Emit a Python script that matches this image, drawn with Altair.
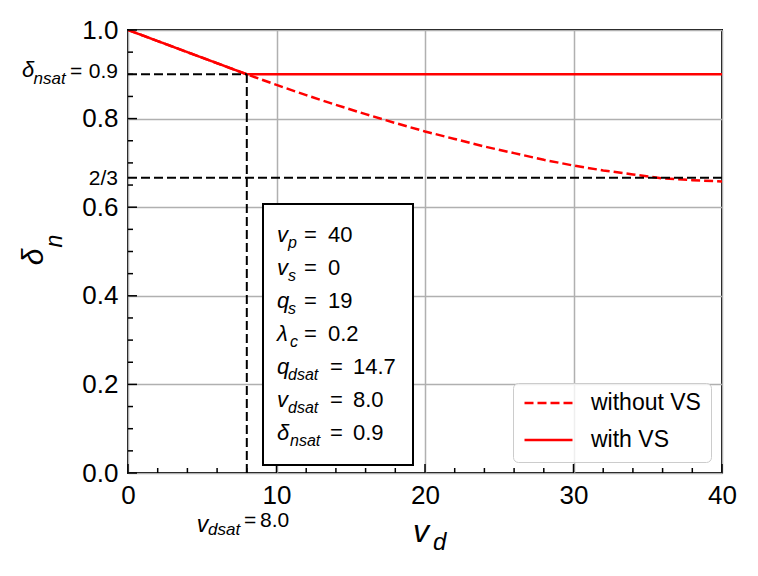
import altair as alt
import pandas as pd

# ---------------- data ----------------
vd = [0, 2, 4, 6, 8, 10, 12, 14, 16, 18, 20, 22, 24, 26, 28, 30, 32, 34, 36, 38, 40]
delta_without_vs = [1.000, 0.975, 0.950, 0.925, 0.900, 0.876, 0.853, 0.831, 0.810, 0.790,
                    0.771, 0.754, 0.737, 0.722, 0.707, 0.694, 0.683, 0.674, 0.665, 0.661, 0.658]
vd_with = [0, 2, 4, 6, 8, 40]
delta_with_vs = [1.000, 0.975, 0.950, 0.925, 0.900, 0.900]
series_names = ["without VS", "with VS"]

vdsat = 8.0
dnsat = 0.9
two_thirds = 2 / 3

param_base = ["v", "v", "q", "λ", "q", "v", "δ"]
param_sub = ["p", "s", "s", "c", "dsat", "dsat", "nsat"]
param_val = ["40", "0", "19", "0.2", "14.7", "8.0", "0.9"]

x_major = [0, 10, 20, 30, 40]
x_minor = [2, 4, 6, 8, 12, 14, 16, 18, 22, 24, 26, 28, 32, 34, 36, 38]
y_major = [0.0, 0.2, 0.4, 0.6, 0.8, 1.0]
y_minor = [0.05, 0.1, 0.15, 0.25, 0.3, 0.35, 0.45, 0.5, 0.55, 0.65, 0.7, 0.75, 0.85, 0.9, 0.95]

# ---------------- layout ----------------
W, H = 594, 443
FONT = "Liberation Sans"
RED = "#ff0000"

xs = alt.Scale(domain=[0, 40], nice=False, zero=False)
ys = alt.Scale(domain=[0, 1], nice=False, zero=False)


def px_to_x(px):
    return (px - 128) / (W / 40)


def px_to_y(py):
    return (473 - py) / H


def X(field):
    return alt.X(field, scale=xs, title=None)


def Y(field):
    return alt.Y(field, scale=ys, title=None)


# ---------------- curves ----------------
df_curves = pd.concat([
    pd.DataFrame({"vd": vd, "delta": delta_without_vs, "series": series_names[0]}),
    pd.DataFrame({"vd": vd_with, "delta": delta_with_vs, "series": series_names[1]}),
])

curves = alt.Chart(df_curves).mark_line(strokeWidth=2.5, clip=True).encode(
    x=alt.X("vd:Q", scale=xs, title=None,
            axis=alt.Axis(values=x_major, title=None, grid=True, labelFlush=False, labelPadding=9)),
    y=alt.Y("delta:Q", scale=ys, title=None,
            axis=alt.Axis(values=y_major, title=None, grid=True, format=".1f", labelPadding=10)),
    color=alt.Color("series:N", scale=alt.Scale(domain=series_names, range=[RED, RED]),
                    legend=alt.Legend(title=None)),
    strokeDash=alt.StrokeDash("series:N",
                              scale=alt.Scale(domain=series_names, range=[[9, 4], [1, 0]]),
                              legend=alt.Legend(title=None)),
)

# ---------------- reference dashed lines ----------------
df_rules = pd.DataFrame({
    "x": [0, vdsat, 0],
    "x2": [vdsat, vdsat, 40],
    "y": [dnsat, 0, two_thirds],
    "y2": [dnsat, dnsat, two_thirds],
})
rules = alt.Chart(df_rules).mark_rule(color="black", strokeWidth=2, strokeDash=[9, 4]).encode(
    x=X("x:Q"), x2="x2:Q", y=Y("y:Q"), y2="y2:Q",
)


# ---------------- inward ticks ----------------
def xticks(vals, length):
    return alt.Chart(pd.DataFrame({"v": vals})).mark_rule(color="black", strokeWidth=1.5).encode(
        x=X("v:Q"), y=alt.value(H), y2=alt.value(H - length))


def yticks(vals, length):
    return alt.Chart(pd.DataFrame({"v": vals})).mark_rule(color="black", strokeWidth=1.5).encode(
        y=Y("v:Q"), x=alt.value(0), x2=alt.value(length))


ticks = [xticks(x_major, 9), xticks(x_minor, 5), yticks(y_major, 9), yticks(y_minor, 5)]

# ---------------- parameter box ----------------
df_box = pd.DataFrame({"x": [px_to_x(263)], "x2": [px_to_x(413)],
                       "y": [px_to_y(465)], "y2": [px_to_y(204)]})
box = alt.Chart(df_box).mark_rect(fill="white", stroke="black", strokeWidth=2).encode(
    x=X("x:Q"), x2="x2:Q", y=Y("y:Q"), y2="y2:Q",
)

rows = []
for i, (b, s, v) in enumerate(zip(param_base, param_sub, param_val)):
    base_py = 241.7 + i * 33.1
    long_sub = len(s) > 1
    rows.append({
        "base": b, "sub": s, "eq": "=", "val": v,
        "y": px_to_y(base_py),
        "ysub": px_to_y(base_py + 6),
        "xbase": px_to_x(277),
        "xsub": px_to_x(290 if b in ("δ", "λ") else 288),
        "xeq": px_to_x(330 if long_sub else 304),
        "xval": px_to_x(353 if long_sub else 328),
    })
df_par = pd.DataFrame(rows)


def par_text(field, xfield, yfield, size, italic):
    return alt.Chart(df_par).mark_text(
        align="left", baseline="alphabetic", font=FONT, fontSize=size,
        fontStyle="italic" if italic else "normal", color="black",
    ).encode(
        x=X(f"{xfield}:Q"), y=Y(f"{yfield}:Q"), text=f"{field}:N",
    )


par_layers = [
    par_text("base", "xbase", "y", 22, True),
    par_text("sub", "xsub", "ysub", 16, True),
    par_text("eq", "xeq", "y", 22, False),
    par_text("val", "xval", "y", 22, False),
]


# ---------------- free text (axis titles, side labels) ----------------
def label(t, x, y, size, italic=False, align="left", angle=0):
    kw = dict(align=align, baseline="alphabetic", font=FONT, fontSize=size,
              fontStyle="italic" if italic else "normal", color="black")
    if angle:
        kw["angle"] = angle
    return alt.Chart(pd.DataFrame({"t": [t]})).mark_text(**kw).encode(
        x=alt.value(x), y=alt.value(y), text="t:N")


texts = [
    # x-axis title v_d
    label("v", 413 - 128, 542 - 30, 32, True),
    label("d", 433 - 128, 550 - 30, 24, True),
    # y-axis title delta_n (rotated)
    label("δ", 43 - 128, 257 - 30, 30, True, align="center", angle=270),
    label("n", 62 - 128, 241 - 30, 23, True, align="center", angle=270),
    # delta_nsat = 0.9 on the left
    label("δ", 22 - 128, 77 - 30, 22, True),
    label("nsat", 33.5 - 128, 84 - 30, 17, True),
    label("=", 70 - 128, 78 - 30, 21),
    label(f"{dnsat:.1f}", 118 - 128, 78 - 30, 21, align="right"),
    # 2/3
    label("2/3", 118 - 128, 185 - 30, 21, align="right"),
    # v_dsat = 8.0 below the axis
    label("v", 196.7 - 128, 532 - 30, 23, True),
    label("dsat", 208 - 128, 535 - 30, 17, True),
    label("=", 244 - 128, 527 - 30, 21),
    label(f"{vdsat:.1f}", 260 - 128, 527 - 30, 21),
]

chart = alt.layer(
    curves, rules, *ticks, box, *par_layers, *texts
).properties(
    width=W, height=H,
    padding={"left": 120, "top": 22, "right": 28, "bottom": 90},
    autosize=alt.AutoSizeParams(type="none"),
    background="white",
).configure_view(
    stroke="black", strokeWidth=2,
).configure_axis(
    labelFont=FONT, labelFontSize=26, labelColor="black",
    domain=False, ticks=False,
    gridColor="#b0b0b0", gridWidth=1.5, gridOpacity=1,
    labelOverlap=False,
).configure_legend(
    orient="bottom-right", offset=11,
    labelFont=FONT, labelFontSize=23, labelColor="black",
    symbolType="stroke", symbolSize=2304, symbolStrokeWidth=2.5,
    clipHeight=20, rowPadding=14, padding=10, labelOffset=17,
    fillColor="rgba(255,255,255,0.8)", strokeColor="#cccccc", cornerRadius=5,
)

chart.save("out.html", embed_options={"renderer": "svg", "actions": False})
